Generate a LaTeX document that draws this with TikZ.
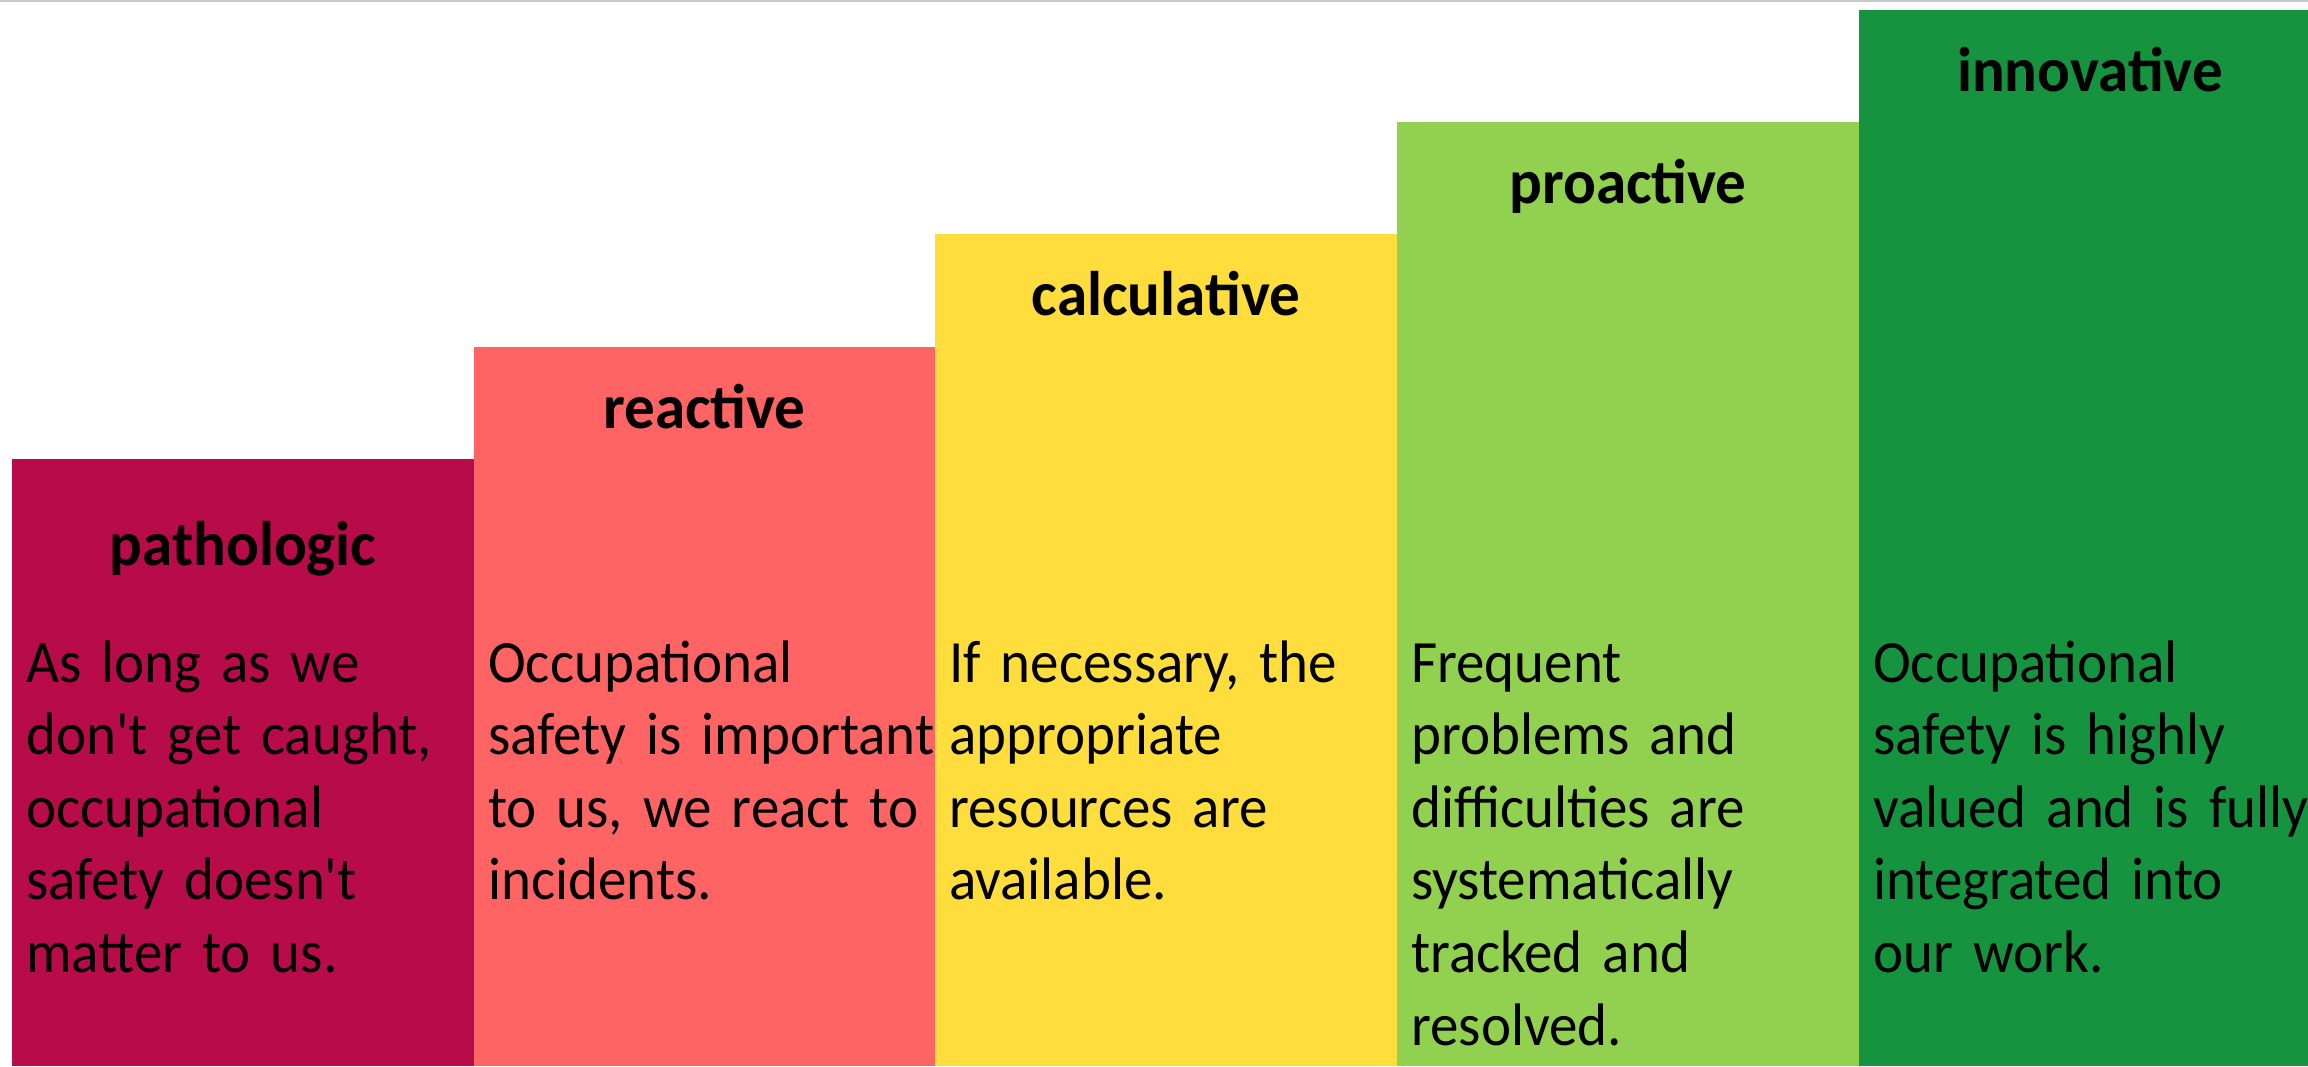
\documentclass[tikz,border=0pt]{standalone}
\usepackage{fontspec}
\newfontfamily\bodyfont[FakeStretch=0.95,WordSpace=0.7]{Carlito}
\newfontfamily\headfont[FakeStretch=0.97]{Carlito}
\definecolor{cpath}{HTML}{B80C4A}
\definecolor{creact}{HTML}{FF6464}
\definecolor{ccalc}{HTML}{FFDD3C}
\definecolor{cpro}{HTML}{92D050}
\definecolor{cinno}{HTML}{15933F}
\definecolor{topline}{HTML}{C8C8C8}
\begin{document}
\begin{tikzpicture}[x=1pt,y=-1pt,
  stepbox/.style={inner sep=0pt, outer sep=0pt, anchor=north west, minimum width=462pt},
  headtxt/.style={inner sep=0pt, anchor=base, font=\headfont\bfseries\fontsize{63}{72}\selectfont},
  bodytxt/.style={inner sep=0pt, anchor=base west, align=left, text width=600pt, font=\bodyfont\fontsize{60}{72.6}\selectfont}
]
\useasboundingbox (0,0) rectangle (2308,1066);
\fill[white] (0,0) rectangle (2308,1066);
\coordinate (tl) at (0,1);
\coordinate (tr) at (2308,1);
\draw[topline, line width=2pt] (tl) -- (tr);
\node[stepbox, fill=cpath, minimum height=607pt] (b1) at (12,459) {};
\node[stepbox, fill=creact, minimum height=719pt] (b2) at (474,347) {};
\node[stepbox, fill=ccalc, minimum height=832pt] (b3) at (935,234) {};
\node[stepbox, fill=cpro, minimum height=944pt] (b4) at (1397,122) {};
\node[stepbox, fill=cinno, minimum height=1056pt, minimum width=449pt] (b5) at (1859,10) {};
\node[headtxt] (t1) at (243,565) {pathologic};
\node[headtxt] (t2) at (704.5,428) {reactive};
\node[headtxt] (t3) at (1166,315) {calculative};
\node[headtxt] (t4) at (1628,203) {proactive};
\node[headtxt] (t5) at (2090,91) {innovative};
\node[bodytxt] (d1) at (26,682) {As long as we\\don't get caught,\\occupational\\safety doesn't\\matter to us.};
\node[bodytxt] (d2) at (488,682) {Occupational\\safety is important\\to us, we react to\\incidents.};
\node[bodytxt] (d3) at (949,682) {If necessary, the\\appropriate\\resources are\\available.};
\node[bodytxt] (d4) at (1411,682) {Frequent\\problems and\\difficulties are\\systematically\\tracked and\\resolved.};
\node[bodytxt] (d5) at (1873,682) {Occupational\\safety is highly\\valued and is fully\\integrated into\\our work.};
\end{tikzpicture}
\end{document}
